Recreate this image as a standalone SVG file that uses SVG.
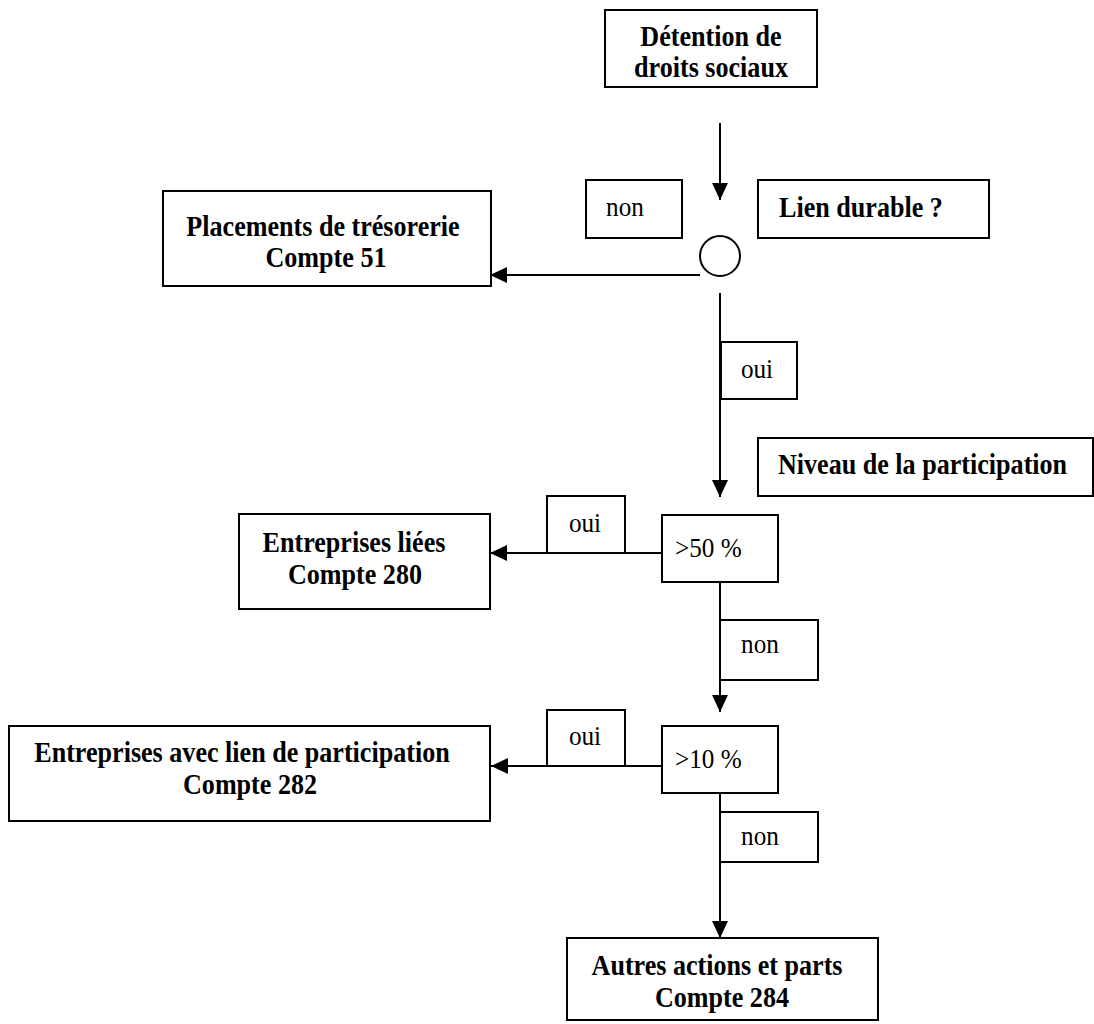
<svg xmlns="http://www.w3.org/2000/svg" width="1094" height="1024" viewBox="0 0 1094 1024">
<defs>
<marker id="arr" markerUnits="userSpaceOnUse" markerWidth="18" markerHeight="16" refX="17" refY="8" orient="auto">
<path d="M0,0 L17,8 L0,16 Z" fill="#000"/>
</marker>
<style>
.box{fill:#fff;stroke:#000;stroke-width:2}
.b{font-family:"Liberation Serif","Times New Roman",serif;font-weight:bold;font-size:29px;fill:#000}
.r{font-family:"Liberation Serif","Times New Roman",serif;font-size:28px;fill:#000}
.c{text-anchor:middle}
.ln{fill:none;stroke:#000;stroke-width:2}
</style>
</defs>
<rect width="1094" height="1024" fill="#fff"/>
<g id="connectors">
<line class="ln" x1="720" y1="123" x2="720" y2="200" marker-end="url(#arr)"/>
<line class="ln" x1="700" y1="275" x2="490" y2="275" marker-end="url(#arr)"/>
<line class="ln" x1="720" y1="293" x2="720" y2="497" marker-end="url(#arr)"/>
<line class="ln" x1="662" y1="553" x2="490" y2="553" marker-end="url(#arr)"/>
<line class="ln" x1="720" y1="582" x2="720" y2="712" marker-end="url(#arr)"/>
<line class="ln" x1="662" y1="766" x2="491" y2="766" marker-end="url(#arr)"/>
<line class="ln" x1="720" y1="793" x2="720" y2="938" marker-end="url(#arr)"/>
</g>
<g id="n-detention">
<rect class="box" x="605" y="10" width="212" height="77"/>
<text class="b c" transform="scale(0.9 1)" x="790" y="46">Détention de</text>
<text class="b c" transform="scale(0.9 1)" x="790" y="77">droits sociaux</text>
</g>
<g id="n-non1">
<rect class="box" x="586" y="180" width="96" height="58"/>
<text class="r c" transform="scale(0.9 1)" x="694.4" y="216">non</text>
</g>
<g id="n-lien">
<rect class="box" x="758" y="180" width="231" height="58"/>
<text class="b" transform="scale(0.9 1)" x="865.6" y="217">Lien durable ?</text>
</g>
<g id="n-circle">
<circle cx="720" cy="256" r="20" fill="#fff" stroke="#000" stroke-width="2"/>
</g>
<g id="n-placements">
<rect class="box" x="163" y="191" width="328" height="95"/>
<text class="b c" transform="scale(0.9 1)" x="358.9" y="236">Placements de trésorerie</text>
<text class="b c" transform="scale(0.9 1)" x="362.2" y="267">Compte 51</text>
</g>
<g id="n-oui1">
<rect class="box" x="721" y="342" width="76" height="57"/>
<text class="r c" transform="scale(0.9 1)" x="841.1" y="378">oui</text>
</g>
<g id="n-niveau">
<rect class="box" x="758" y="438" width="335" height="58"/>
<text class="b" transform="scale(0.9 1)" x="864.4" y="474">Niveau de la participation</text>
</g>
<g id="n-oui2">
<rect class="box" x="547" y="496" width="78" height="57"/>
<text class="r c" transform="scale(0.9 1)" x="650" y="532">oui</text>
</g>
<g id="n-gt50">
<rect class="box" x="662" y="515" width="116" height="67"/>
<text class="r" transform="scale(0.9 1)" x="750" y="557">&gt;50 %</text>
</g>
<g id="n-liees">
<rect class="box" x="239" y="514" width="251" height="95"/>
<text class="b c" transform="scale(0.9 1)" x="393.3" y="552">Entreprises liées</text>
<text class="b c" transform="scale(0.9 1)" x="394.4" y="584">Compte 280</text>
</g>
<g id="n-non2">
<rect class="box" x="720" y="620" width="98" height="60"/>
<text class="r c" transform="scale(0.9 1)" x="844.4" y="653">non</text>
</g>
<g id="n-oui3">
<rect class="box" x="547" y="710" width="78" height="56"/>
<text class="r c" transform="scale(0.9 1)" x="650" y="745">oui</text>
</g>
<g id="n-gt10">
<rect class="box" x="662" y="726" width="116" height="67"/>
<text class="r" transform="scale(0.9 1)" x="750" y="768">&gt;10 %</text>
</g>
<g id="n-avec">
<rect class="box" x="9" y="726" width="481" height="95"/>
<text class="b c" transform="scale(0.9 1)" x="268.9" y="762">Entreprises avec lien de participation</text>
<text class="b c" transform="scale(0.9 1)" x="277.8" y="794">Compte 282</text>
</g>
<g id="n-non3">
<rect class="box" x="720" y="812" width="98" height="50"/>
<text class="r c" transform="scale(0.9 1)" x="844.4" y="845">non</text>
</g>
<g id="n-autres">
<rect class="box" x="567" y="938" width="311" height="82"/>
<text class="b c" transform="scale(0.9 1)" x="796.7" y="975">Autres actions et parts</text>
<text class="b c" transform="scale(0.9 1)" x="802.2" y="1007">Compte 284</text>
</g>
</svg>
